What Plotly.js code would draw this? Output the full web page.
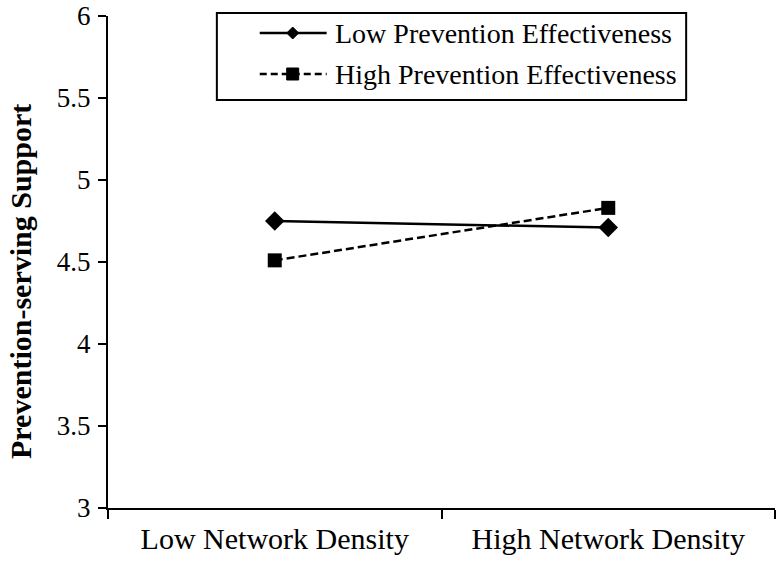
<!DOCTYPE html>
<html>
<head>
<meta charset="utf-8">
<script src="https://cdn.plot.ly/plotly-3.0.1.min.js"></script>
<style>html,body{margin:0;padding:0;background:#fff;}#chart{width:776px;height:561px;}</style>
</head>
<body>
<div id="chart"></div>
<script>
var categories = ["Low Network Density", "High Network Density"];
var seriesNames = ["Low Prevention Effectiveness", "High Prevention Effectiveness"];
var lowPrevention = [4.75, 4.71];
var highPrevention = [4.51, 4.83];
var yTicks = [3, 3.5, 4, 4.5, 5, 5.5, 6];
var yTickText = ["3", "3.5", "4", "4.5", "5", "5.5", "6"];
var yTitle = "Prevention-serving Support";

var font = "'Liberation Serif', 'Times New Roman', serif";

var traces = [
  {
    x: categories, y: lowPrevention, type: "scatter", mode: "lines+markers",
    name: seriesNames[0], showlegend: false,
    line: {color: "#000", width: 2.5},
    marker: {symbol: "diamond", size: 15, color: "#000"}
  },
  {
    x: categories, y: highPrevention, type: "scatter", mode: "lines+markers",
    name: seriesNames[1], showlegend: false,
    line: {color: "#000", width: 2.5, dash: "8px,4px"},
    marker: {symbol: "square", size: 14, color: "#000"}
  }
];

// custom legend box (paper coordinates), styled like the reference
var legX0 = 0.1632, legX1 = 0.8668, legY0 = 0.8293, legY1 = 1.006;
var rowY = [0.9654, 0.8821];
var sampleX0 = 0.2275, sampleX1 = 0.3278, sampleMid = 0.2769, textX = 0.3368;

var shapes = [
  {type: "rect", xref: "paper", yref: "paper", x0: legX0, x1: legX1, y0: legY0, y1: legY1,
   line: {color: "#000", width: 2}, fillcolor: "#fff", layer: "above"},
  {type: "line", xref: "paper", yref: "paper", x0: sampleX0, x1: sampleX1, y0: rowY[0], y1: rowY[0],
   line: {color: "#000", width: 2.5}, layer: "above"},
  {type: "line", xref: "paper", yref: "paper", x0: sampleX0, x1: sampleX1, y0: rowY[1], y1: rowY[1],
   line: {color: "#000", width: 2.5, dash: "7px,4px"}, layer: "above"},
  {type: "path", xref: "paper", yref: "paper", xsizemode: "pixel", ysizemode: "pixel",
   xanchor: sampleMid, yanchor: rowY[0], path: "M-6,0 L0,6 L6,0 L0,-6 Z",
   fillcolor: "#000", line: {color: "#000", width: 1}, layer: "above"},
  {type: "path", xref: "paper", yref: "paper", xsizemode: "pixel", ysizemode: "pixel",
   xanchor: sampleMid, yanchor: rowY[1], path: "M-6,-6 L6,-6 L6,6 L-6,6 Z",
   fillcolor: "#000", line: {color: "#000", width: 1}, layer: "above"}
];

var annotations = [
  {xref: "paper", yref: "paper", x: textX, y: rowY[0], xanchor: "left", yanchor: "middle",
   text: seriesNames[0], showarrow: false, font: {family: font, size: 28, color: "#000"}},
  {xref: "paper", yref: "paper", x: textX, y: rowY[1], xanchor: "left", yanchor: "middle",
   text: seriesNames[1], showarrow: false, font: {family: font, size: 28, color: "#000"}},
  {xref: "paper", yref: "paper", x: 0, y: 0.4593, xshift: -88, xanchor: "center", yanchor: "middle",
   textangle: -90, text: "<b>" + yTitle + "</b>", showarrow: false,
   font: {family: font, size: 30, color: "#000"}}
];

var layout = {
  width: 776, height: 561,
  margin: {l: 108, r: 1, t: 16, b: 53},
  paper_bgcolor: "#fff", plot_bgcolor: "#fff",
  font: {family: font, size: 28, color: "#000"},
  showlegend: false,
  shapes: shapes,
  annotations: annotations,
  xaxis: {
    type: "category", range: [-0.5, 1.5],
    tickson: "boundaries", ticks: "outside", ticklen: 9, tickwidth: 2, tickcolor: "#000",
    showline: true, linecolor: "#000", linewidth: 2,
    showgrid: false, zeroline: false,
    ticklabelstandoff: 3,
    tickfont: {family: font, size: 30, color: "#000"}
  },
  yaxis: {
    range: [3, 6], tickvals: yTicks, ticktext: yTickText,
    ticks: "outside", ticklen: 8, tickwidth: 2, tickcolor: "#000",
    showline: true, linecolor: "#000", linewidth: 2,
    showgrid: false, zeroline: false,
    ticklabeloverflow: "allow",
    ticklabelstandoff: 2,
    tickfont: {family: font, size: 27, color: "#000"}
  }
};

Plotly.newPlot("chart", traces, layout, {displayModeBar: false, staticPlot: true});
</script>
</body>
</html>
